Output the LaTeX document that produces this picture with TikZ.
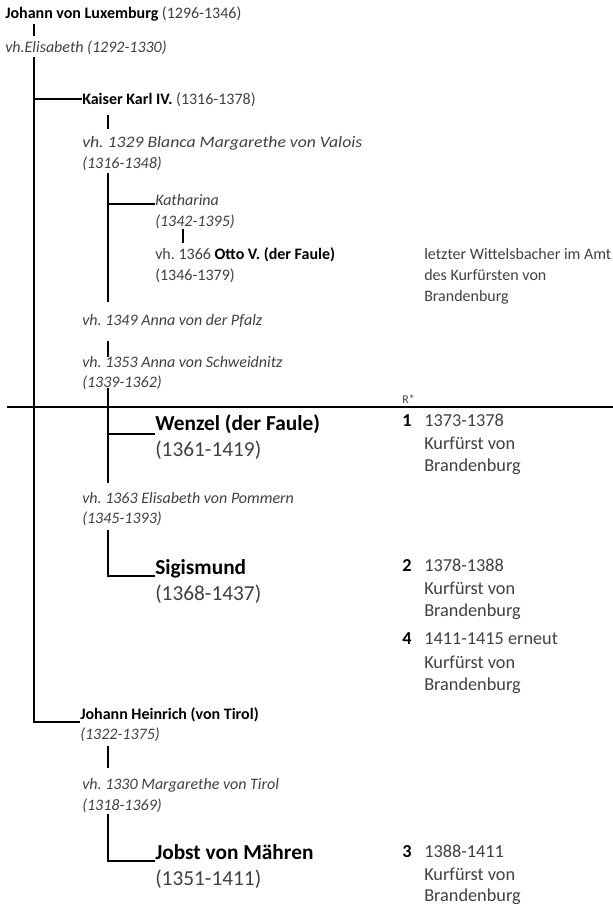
\documentclass[tikz,border=0pt]{standalone}
\usepackage{fontspec}
\setmainfont{Carlito}
\usepackage{xcolor}
\usepackage{graphicx}
\usetikzlibrary{calc}
\definecolor{ink}{RGB}{64,64,64}
\newcommand{\fsmall}{\fontsize{12}{14}\selectfont}
\newcommand{\fmid}{\fontsize{13.7}{16}\selectfont}
\newcommand{\fbig}{\fontsize{16}{19}\selectfont}
\newcommand{\ftiny}{\fontsize{9}{10}\selectfont}
\newcommand{\nm}[1]{\textcolor{black}{\bfseries #1}}
\frenchspacing

\begin{document}
\begin{tikzpicture}[x=0.75pt, y=-0.75pt,
        lin/.style={line width=1.6pt},
        txt/.style={anchor=base west, inner sep=0pt, text=ink, font=\fsmall},
        itx/.style={txt, font=\fsmall\itshape},
        big/.style={txt, font=\fbig},
        rcol/.style={txt, font=\fmid}]
        \useasboundingbox (0,0) rectangle (613,904);

        % Johann von Luxemburg
        \node [txt] (johann) at (5,18) {\nm{Johann von Luxemburg} (1296-1346)};
        \node [itx] (elis) at (5,52) {vh.Elisabeth (1292-1330)};
        \coordinate (t0a) at (34,24);
        \coordinate (t0b) at (34,36);
        \coordinate (s0) at (34,57);
        \coordinate (s1) at (34,99);
        \coordinate (s2) at (34,722);
        \draw [lin] (t0a) -- (t0b);

        % Karl IV.
        \node [txt] (karl) at (82,104) {\nm{Kaiser Karl IV.} (1316-1378)};
        \node [itx] (blanca) at (82,147) {\resizebox{210pt}{\height}{vh. 1329 Blanca Margarethe von Valois}};
        \node [itx] (blanca2) at (82,168) {(1316-1348)};
        \node [itx] (kath) at (155,205) {Katharina};
        \node [itx] (kath2) at (155,226) {(1342-1395)};
        \node [txt] (otto) at (155,259) {vh. 1366 \nm{Otto V. (der Faule)}};
        \node [txt] (otto2) at (155,280) {(1346-1379)};
        \node [txt] (note1) at (424,259) {letzter Wittelsbacher im Amt};
        \node [txt] (note2) at (424,280) {des Kurfürsten von};
        \node [txt] (note3) at (424,301) {Brandenburg};
        \node [itx] (pfalz) at (82,325) {vh. 1349 Anna von der Pfalz};
        \node [itx] (schw) at (82,367) {vh. 1353 Anna von Schweidnitz};
        \node [itx] (schw2) at (82,387) {(1339-1362)};

        \coordinate (k0a) at (108,115);
        \coordinate (k0b) at (108,129);
        \coordinate (k1) at (108,173);
        \coordinate (k2) at (108,302);
        \coordinate (k3) at (108,204);
        \coordinate (c0a) at (183,229);
        \coordinate (c0b) at (183,243);
        \coordinate (p0a) at (108,341);
        \coordinate (p0b) at (108,357);

        % Kurfuersten
        \node [txt, font=\ftiny] (rstar) at (402,403) {R*};
        \coordinate (h0) at (7,407);
        \coordinate (h1) at (613,407);

        \node [big] (wenzel) at (155,430) {\nm{Wenzel (der Faule)}};
        \node [big] (wenzel2) at (155,456) {(1361-1419)};
        \node [rcol] (n1) at (402,426) {\nm{1}};
        \node [rcol] (r1a) at (424,426) {1373-1378};
        \node [rcol] (r1b) at (424,449) {Kurfürst von};
        \node [rcol] (r1c) at (424,471) {Brandenburg};

        \node [itx] (pomm) at (82,503) {vh. 1363 Elisabeth von Pommern};
        \node [itx] (pomm2) at (82,523) {(1345-1393)};
        \node [big] (sigi) at (155,574) {\nm{Sigismund}};
        \node [big] (sigi2) at (155,600) {(1368-1437)};
        \node [rcol] (n2) at (402,571) {\nm{2}};
        \node [rcol] (r2a) at (424,571) {1378-1388};
        \node [rcol] (r2b) at (424,594) {Kurfürst von};
        \node [rcol] (r2c) at (424,616) {Brandenburg};
        \node [rcol] (n4) at (402,644) {\nm{4}};
        \node [rcol] (r4a) at (424,644) {1411-1415 erneut};
        \node [rcol] (r4b) at (424,668) {Kurfürst von};
        \node [rcol] (r4c) at (424,690) {Brandenburg};

        \coordinate (w0) at (108,388);
        \coordinate (w1) at (108,483);
        \coordinate (w2) at (108,434);
        \coordinate (g0) at (108,530);
        \coordinate (g1) at (108,576);

        % Johann Heinrich
        \node [txt] (heinr) at (80,719) {\nm{Johann Heinrich (von Tirol)}};
        \node [itx] (heinr2) at (80,739) {(1322-1375)};
        \node [itx] (marg) at (82,789) {vh. 1330 Margarethe von Tirol};
        \node [itx] (marg2) at (82,810) {(1318-1369)};
        \node [big] (jobst) at (155,859) {\nm{Jobst von Mähren}};
        \node [big] (jobst2) at (155,885) {(1351-1411)};
        \node [rcol] (n3) at (402,857) {\nm{3}};
        \node [rcol] (r3a) at (424,857) {1388-1411};
        \node [rcol] (r3b) at (424,880) {Kurfürst von};
        \node [rcol] (r3c) at (424,901) {Brandenburg};

        \coordinate (m0a) at (108,746);
        \coordinate (m0b) at (108,768);
        \coordinate (j0) at (108,814);
        \coordinate (j1) at (108,861);

        \draw [lin] (s0) -- (s2) -- (s2 -| heinr.west);
        \draw [lin] (s1) -- (s1 -| karl.west);
        \draw [lin] (k0a) -- (k0b);
        \draw [lin] (k1) -- (k2);
        \draw [lin] (k3) -- (k3 -| kath.west);
        \draw [lin] (c0a) -- (c0b);
        \draw [lin] (p0a) -- (p0b);
        \draw [lin] (h0) -- (h1);
        \draw [lin] (w0) -- (w1);
        \draw [lin] (w2) -- (w2 -| wenzel.west);
        \draw [lin] (g0) -- (g1) -- (g1 -| sigi.west);
        \draw [lin] (m0a) -- (m0b);
        \draw [lin] (j0) -- (j1) -- (j1 -| jobst.west);
\end{tikzpicture}
\end{document}
